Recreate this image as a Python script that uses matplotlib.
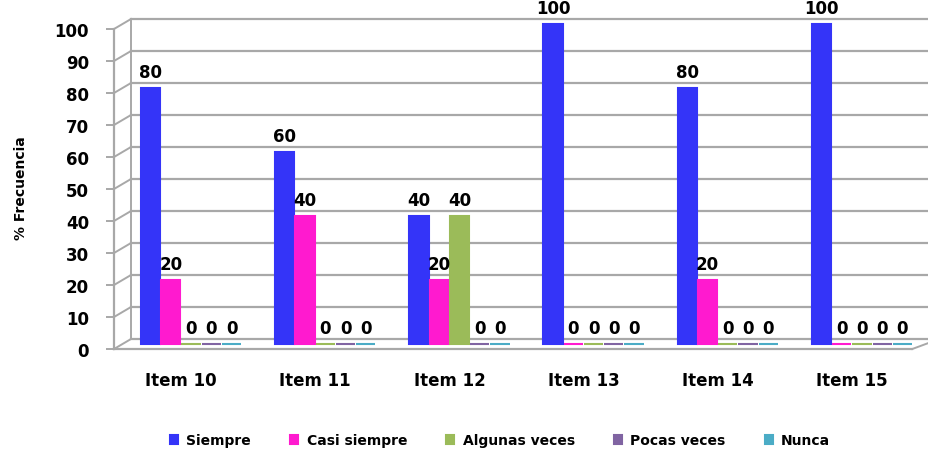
import matplotlib
matplotlib.use("Agg")
import matplotlib.pyplot as plt
import matplotlib.transforms as mtransforms
import numpy as np

categories = ["Item 10", "Item 11", "Item 12", "Item 13", "Item 14", "Item 15"]
series_names = ["Siempre", "Casi siempre", "Algunas veces", "Pocas veces", "Nunca"]
siempre = [80, 60, 40, 100, 80, 100]
casi_siempre = [20, 40, 20, 0, 20, 0]
algunas_veces = [0, 0, 40, 0, 0, 0]
pocas_veces = [0, 0, 0, 0, 0, 0]
nunca = [0, 0, 0, 0, 0, 0]
yticks = [0, 10, 20, 30, 40, 50, 60, 70, 80, 90, 100]
ylabel = "% Frecuencia"

series = [siempre, casi_siempre, algunas_veces, pocas_veces, nunca]
colors = ["#3434F8", "#FF1ACF", "#9BBB59", "#8064A2", "#4BACC6"]

plt.rcParams['font.family'] = ['DejaVu Sans']

fig = plt.figure(figsize=(9.29, 4.52), dpi=100)
ax = fig.add_axes([114 / 929, (452 - 350) / 452, (919 - 114) / 929, 329.6 / 452])
ax.set_xlim(-0.5, 5.5)
ax.set_ylim(0, 103)

grid_c = "#A8A8A8"
# back-wall gridlines (3D offset)
back = mtransforms.offset_copy(ax.transData, fig=fig, x=17, y=10, units='dots')
front = ax.transData
for v in yticks:
    ax.plot([-0.5, 5.6], [v, v], color=grid_c, lw=1.6, transform=back, clip_on=False, zorder=0)
    p0 = front.transform((-0.5, v))
    p1 = back.transform((-0.5, v))
    ax.plot([p0[0], p1[0]], [p0[1], p1[1]], color=grid_c, lw=1.4,
            transform=None, clip_on=False, zorder=0)
ax.plot([-0.5, -0.5], [0, 100], color=grid_c, lw=1.4, transform=back, clip_on=False, zorder=0)
ax.plot([-0.5, 5.45], [0, 0], color=grid_c, lw=1.6, transform=front, clip_on=False, zorder=0)
pa = front.transform((5.45, 0))
pb = back.transform((5.45, 0))
ax.plot([pa[0], pb[0] + 10], [pa[1], pb[1]], color=grid_c, lw=1.4, transform=None, clip_on=False, zorder=0)

for s in ["top", "right", "bottom"]:
    ax.spines[s].set_visible(False)
ax.spines["left"].set_color(grid_c)
ax.spines["left"].set_linewidth(1.6)
ax.spines["left"].set_bounds(0, 100)

x = np.arange(len(categories))
w = 0.151
bar_tr = mtransforms.offset_copy(ax.transData, fig=fig, x=10, y=5, units='dots')
lab_tr = mtransforms.offset_copy(bar_tr, fig=fig, x=0, y=7, units='dots')
for i, (vals, c, name) in enumerate(zip(series, colors, series_names)):
    xs = x + (i - 2) * w
    bars = ax.bar(xs, vals, width=w * 0.95, color=c, edgecolor=c, linewidth=1.5,
                  label=name, zorder=3)
    for b in bars:
        b.set_transform(bar_tr)
    for xi, v in zip(xs, vals):
        ax.text(xi, v, f"{v}", transform=lab_tr,
                ha='center', va='bottom', fontsize=12, fontweight='bold', color='black', zorder=5)

ax.set_yticks(yticks)
ax.set_yticklabels([str(t) for t in yticks], fontsize=12, fontweight='bold')
ax.tick_params(axis='y', length=6, width=1.4, color=grid_c, pad=12)
ax.set_xticks(x)
ax.set_xticklabels(categories, fontsize=12, fontweight='bold')
ax.tick_params(axis='x', length=0, pad=16)

fig.text(21 / 929, 1 - 188 / 452, ylabel, rotation=90, ha='center', va='center',
         fontsize=10, fontweight='bold')

handles, labels = ax.get_legend_handles_labels()
leg = fig.legend(handles, labels, loc='center', bbox_to_anchor=(500 / 929, 1 - 441 / 452),
                 ncol=5, frameon=False, prop={'weight': 'bold', 'size': 10},
                 handlelength=0.6, handleheight=0.6, handletextpad=0.6, columnspacing=2.8)

fig.savefig("out.png", dpi=100, facecolor="white")
